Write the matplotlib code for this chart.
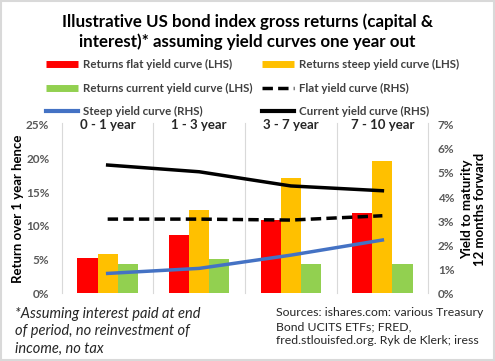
import matplotlib.pyplot as plt
import matplotlib.patches as mpatches
from matplotlib.lines import Line2D
import numpy as np

plt.rcParams['font.family'] = ['Lato', 'DejaVu Sans']

categories = ['0 - 1 year', '1 - 3 year', '3 - 7 year', '7 - 10 year']
ret_flat = [5.2, 8.6, 10.9, 11.9]
ret_steep = [5.8, 12.3, 17.1, 19.7]
ret_current = [4.3, 5.0, 4.4, 4.3]
ytm_flat = [3.08, 3.08, 3.04, 3.22]
ytm_steep = [0.82, 1.03, 1.58, 2.21]
ytm_current = [5.33, 5.05, 4.46, 4.26]

red = '#FF0000'
orange = '#FFC000'
green = '#92D050'
blue = '#4472C4'
grey = '#595959'

fig = plt.figure(figsize=(4.95, 3.61), dpi=100)
fig.patches.append(mpatches.Rectangle((0.002, 0.003), 0.996, 0.994, transform=fig.transFigure,
                                      fill=False, edgecolor='#d9d9d9', lw=1.5))

ax = fig.add_axes([0.125, 0.188, 0.74, 0.466])
x = np.arange(len(categories))
w = 0.22
ax.bar(x - w, ret_flat, w, color=red)
ax.bar(x, ret_steep, w, color=orange)
ax.bar(x + w, ret_current, w, color=green)
ax.set_xlim(-0.5, 3.5)
ax.set_ylim(0, 25)
ax.set_yticks(range(0, 26, 5))
ax.set_yticklabels([f'{v}%' for v in range(0, 26, 5)], fontsize=8.5, fontweight='bold', color=grey)
ax.set_xticks([])
for s in ax.spines.values():
    s.set_visible(False)
for b in [-0.5, 0.5, 1.5, 2.5, 3.5]:
    ax.axvline(b, color='#d9d9d9', lw=0.8, ymax=1.01, clip_on=False)
ax.tick_params(axis='y', length=0, pad=9)
for i, c in enumerate(categories):
    ax.text(i, 25, c, ha='center', va='center', fontsize=9.5, fontweight='bold', color='#262626')
ax.set_ylabel('Return over 1 year hence', fontsize=9.5, fontweight='bold', labelpad=1)

ax2 = ax.twinx()
ax2.plot(x, ytm_flat, color='black', lw=2.5, ls=(0, (3, 1.5)))
ax2.plot(x, ytm_steep, color=blue, lw=2.5)
ax2.plot(x, ytm_current, color='black', lw=2.5)
ax2.set_ylim(0, 7)
ax2.set_yticks(range(0, 8))
ax2.set_yticklabels([f'{v}%' for v in range(0, 8)], fontsize=8.5, fontweight='bold', color=grey)
ax2.tick_params(axis='y', length=0, pad=7)
for s in ax2.spines.values():
    s.set_visible(False)
ax2.set_ylabel('Yield to maturity\n12 months forward', fontsize=9.5, fontweight='bold', labelpad=5,
               linespacing=1.1)

fig.text(0.5, 0.912, 'Illustrative US bond index gross returns (capital &\ninterest)* assuming yield curves one year out',
         ha='center', va='center', fontsize=12.2, fontweight='bold', linespacing=1.3)

handles = [
    Line2D([], [], color=red, lw=5, solid_capstyle='butt'),
    Line2D([], [], color=green, lw=5, solid_capstyle='butt'),
    Line2D([], [], color=blue, lw=3),
    Line2D([], [], color=orange, lw=5, solid_capstyle='butt'),
    Line2D([], [], color='black', lw=2.5, ls=(0, (3, 1.5))),
    Line2D([], [], color='black', lw=3),
]
labels = ['Returns flat yield curve (LHS)', 'Returns current yield curve (LHS)', 'Steep yield curve (RHS)',
          'Returns steep yield curve (LHS)', 'Flat yield curve (RHS)', 'Current yield curve (RHS)']
fig.legend(handles, labels, ncol=2, loc='center', bbox_to_anchor=(0.51, 0.756), frameon=False,
           prop={'size': 8.3, 'weight': 'bold'}, handlelength=2.8, handletextpad=0.4,
           columnspacing=0.8, labelspacing=1.05, labelcolor='#404040')

fig.text(0.03, 0.082, '*Assuming interest paid at end\nof period, no reinvestment of\nincome, no tax',
         ha='left', va='center', fontsize=10.5, style='italic', color='#262626', linespacing=1.3)
fig.text(0.557, 0.0955, 'Sources: ishares.com: various Treasury\nBond UCITS ETFs; FRED,\nfred.stlouisfed.org. Ryk de Klerk; iress',
         ha='left', va='center', fontsize=8.8, color='#262626', linespacing=1.3)

fig.savefig('out.png', dpi=100)
